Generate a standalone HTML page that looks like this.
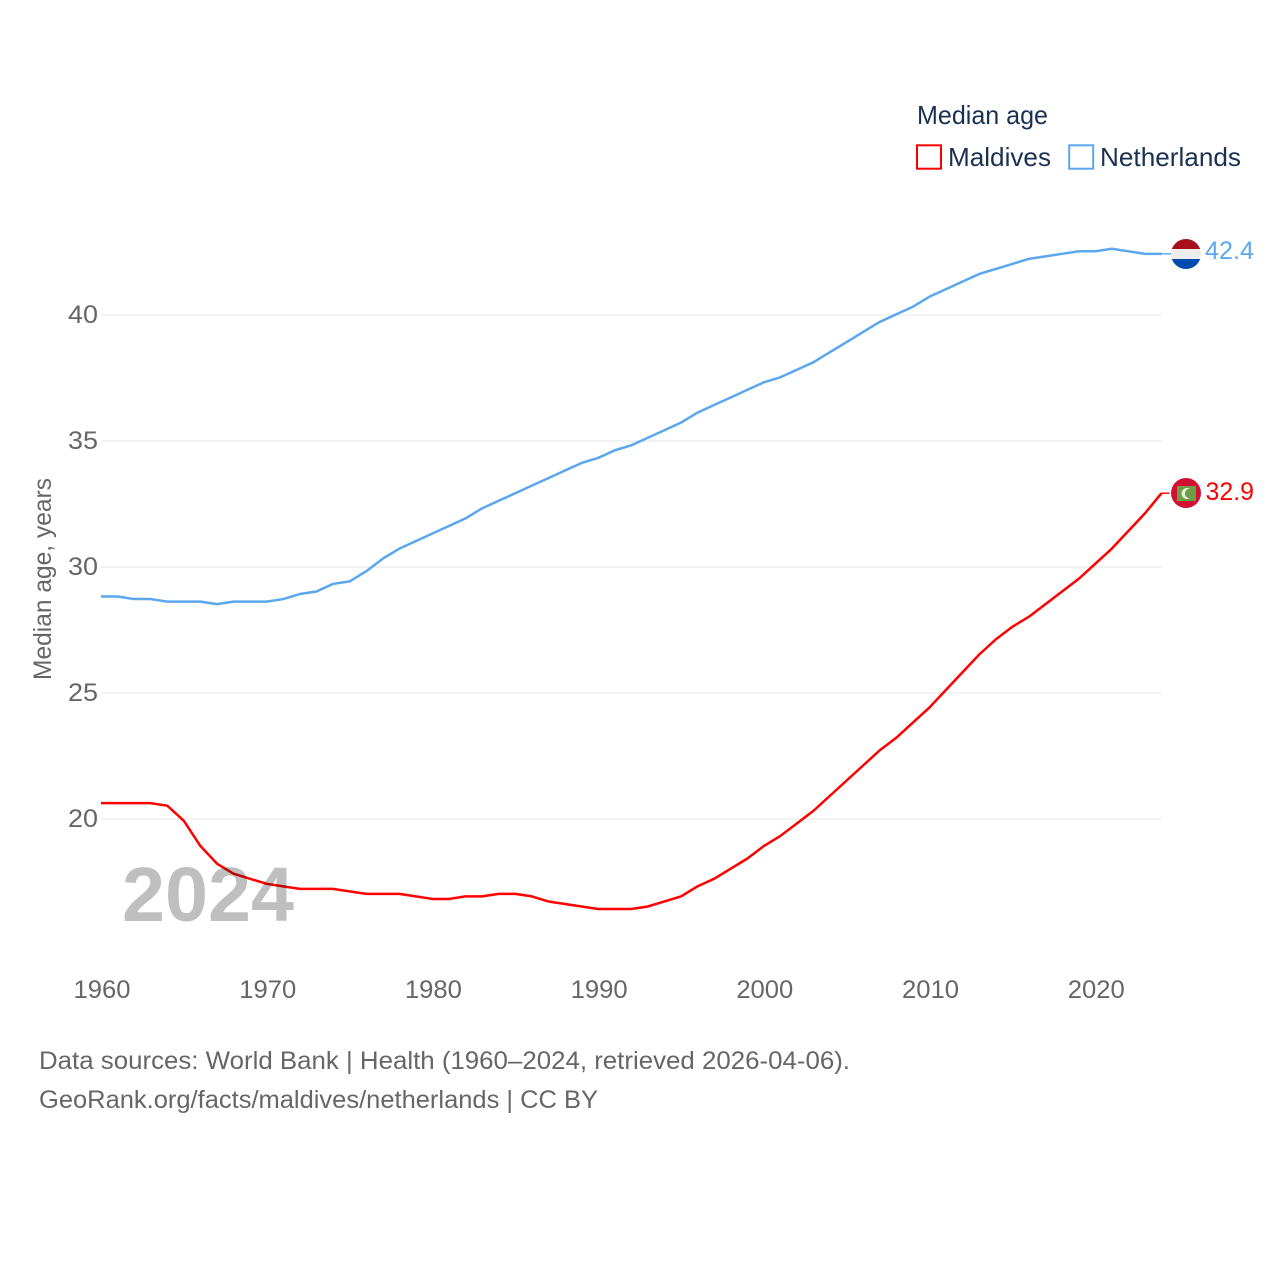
<!DOCTYPE html>
<html lang="en">
<head>
<meta charset="utf-8">
<title>Median age: Maldives and Netherlands</title>
<style>
html,body{margin:0;padding:0;background:#fff;width:1280px;height:1280px;overflow:hidden}
svg{display:block}
text{font-family:"Liberation Sans",sans-serif}
</style>
</head>
<body>
<svg id="chart" xmlns="http://www.w3.org/2000/svg" width="1280" height="1280" viewBox="0 0 1280 1280">
  <defs>
    <clipPath id="clip-nl"><circle cx="1186" cy="254" r="15"/></clipPath>
    <clipPath id="clip-mv"><circle cx="1186" cy="493" r="15"/></clipPath>
  </defs>
  <rect x="0" y="0" width="1280" height="1280" fill="#fff"/>
  <g id="grid"></g>
  <g id="y-ticks"></g>
  <g id="x-ticks"></g>
  <text transform="translate(51,680) rotate(-90)" font-size="25" fill="#666" textLength="202" lengthAdjust="spacingAndGlyphs">Median age, years</text>
  <g id="series" transform="translate(0,-0.7)"></g>
  <text x="122" y="921" font-size="77" font-weight="700" fill="#000" fill-opacity="0.25" textLength="172" lengthAdjust="spacingAndGlyphs">2024</text>

  <g>
    <text x="917" y="124" font-size="26" fill="#1a3150" textLength="131" lengthAdjust="spacingAndGlyphs">Median age</text>
    <g>
      <rect x="917" y="145.3" width="24" height="23.4" fill="none" stroke="#ff0000" stroke-width="2"/>
      <text x="948" y="166" font-size="26" fill="#1a3150" textLength="103" lengthAdjust="spacingAndGlyphs">Maldives</text>
    </g>
    <g>
      <rect x="1069.2" y="145.3" width="24" height="23.4" fill="none" stroke="#5ba7ee" stroke-width="2"/>
      <text x="1100" y="166" font-size="26" fill="#1a3150" textLength="141" lengthAdjust="spacingAndGlyphs">Netherlands</text>
    </g>
  </g>

  <g clip-path="url(#clip-nl)">
    <rect x="1171" y="239" width="30" height="10" fill="#a8101c"/>
    <rect x="1171" y="249" width="30" height="10" fill="#eeeeee"/>
    <rect x="1171" y="259" width="30" height="10" fill="#014aaf"/>
  </g>
  <g clip-path="url(#clip-mv)">
    <rect x="1171" y="478" width="30" height="30" fill="#d21034"/>
    <rect x="1177" y="486" width="19" height="15" fill="#6a9f45"/>
    <circle cx="1187" cy="493.5" r="5.5" fill="#e6efdc"/>
    <circle cx="1189.5" cy="493.5" r="4.6" fill="#6a9f45"/>
  </g>
  <text x="1205" y="259" font-size="25" fill="#5ba7ee" textLength="49" lengthAdjust="spacingAndGlyphs">42.4</text>
  <text x="1205.5" y="500" font-size="25" fill="#ff0000" textLength="48.5" lengthAdjust="spacingAndGlyphs">32.9</text>

  <text x="39" y="1069" font-size="25" fill="#666" textLength="811" lengthAdjust="spacingAndGlyphs">Data sources: World Bank | Health (1960–2024, retrieved 2026-04-06).</text>
  <text x="39" y="1108" font-size="25" fill="#666" textLength="559" lengthAdjust="spacingAndGlyphs">GeoRank.org/facts/maldives/netherlands | CC BY</text>
</svg>
<script>
const years = [1960,1961,1962,1963,1964,1965,1966,1967,1968,1969,1970,1971,1972,1973,1974,1975,1976,1977,1978,1979,1980,1981,1982,1983,1984,1985,1986,1987,1988,1989,1990,1991,1992,1993,1994,1995,1996,1997,1998,1999,2000,2001,2002,2003,2004,2005,2006,2007,2008,2009,2010,2011,2012,2013,2014,2015,2016,2017,2018,2019,2020,2021,2022,2023,2024];
const netherlands = [28.8,28.8,28.7,28.7,28.6,28.6,28.6,28.5,28.6,28.6,28.6,28.7,28.9,29.0,29.3,29.4,29.8,30.3,30.7,31.0,31.3,31.6,31.9,32.3,32.6,32.9,33.2,33.5,33.8,34.1,34.3,34.6,34.8,35.1,35.4,35.7,36.1,36.4,36.7,37.0,37.3,37.5,37.8,38.1,38.5,38.9,39.3,39.7,40.0,40.3,40.7,41.0,41.3,41.6,41.8,42.0,42.2,42.3,42.4,42.5,42.5,42.6,42.5,42.4,42.4];
const maldives = [20.6,20.6,20.6,20.6,20.5,19.9,18.9,18.2,17.8,17.6,17.4,17.3,17.2,17.2,17.2,17.1,17.0,17.0,17.0,16.9,16.8,16.8,16.9,16.9,17.0,17.0,16.9,16.7,16.6,16.5,16.4,16.4,16.4,16.5,16.7,16.9,17.3,17.6,18.0,18.4,18.9,19.3,19.8,20.3,20.9,21.5,22.1,22.7,23.2,23.8,24.4,25.1,25.8,26.5,27.1,27.6,28.0,28.5,29.0,29.5,30.1,30.7,31.4,32.1,32.9];
const yTickValues = [20,25,30,35,40];
const xTickValues = [1960,1970,1980,1990,2000,2010,2020];

const NS = 'http://www.w3.org/2000/svg';
const plotLeft = 101, plotRight = 1161.5;
function xScale(year){ return plotLeft + (year - 1960) * (plotRight - plotLeft) / (2024 - 1960); }
function yScale(v){ return 819 + (v - 20) * (315 - 819) / (40 - 20); }

const grid = document.getElementById('grid');
const yTicks = document.getElementById('y-ticks');
const xTicks = document.getElementById('x-ticks');
const series = document.getElementById('series');

yTickValues.forEach(function(v){
  const line = document.createElementNS(NS,'line');
  
  
  line.setAttribute('x1', 101.5);
  line.setAttribute('x2', 1162);
  line.setAttribute('y1', yScale(v));
  line.setAttribute('y2', yScale(v));
  line.setAttribute('stroke', '#eeeeee');
  line.setAttribute('stroke-width', '1.6');
  grid.appendChild(line);
  const label = document.createElementNS(NS,'text');
  
  
  label.setAttribute('x', 68);
  label.setAttribute('y', yScale(v) + 8);
  label.setAttribute('font-size', '25');
  label.setAttribute('fill', '#666');
  label.setAttribute('textLength', '30');
  label.setAttribute('lengthAdjust', 'spacingAndGlyphs');
  label.textContent = String(v);
  yTicks.appendChild(label);
});

xTickValues.forEach(function(v){
  const label = document.createElementNS(NS,'text');
  
  
  label.setAttribute('x', xScale(v) - 27.5);
  label.setAttribute('y', 998);
  label.setAttribute('font-size', '25');
  label.setAttribute('fill', '#666');
  label.setAttribute('textLength', '57');
  label.setAttribute('lengthAdjust', 'spacingAndGlyphs');
  label.textContent = String(v);
  xTicks.appendChild(label);
});

function linePoints(values){
  return values.map(function(v, i){ return xScale(years[i]).toFixed(2) + ',' + yScale(v).toFixed(2); });
}

const nlLine = document.createElementNS(NS,'polyline');


nlLine.setAttribute('points', linePoints(netherlands).join(' '));
nlLine.setAttribute('fill', 'none');
nlLine.setAttribute('stroke', '#5ba7ee');
nlLine.setAttribute('stroke-width', '2.5');
nlLine.setAttribute('stroke-linejoin', 'round');
series.appendChild(nlLine);

const mvLine = document.createElementNS(NS,'polyline');


mvLine.setAttribute('points', linePoints(maldives).join(' '));
mvLine.setAttribute('fill', 'none');
mvLine.setAttribute('stroke', '#ff0000');
mvLine.setAttribute('stroke-width', '2.5');
mvLine.setAttribute('stroke-linejoin', 'round');
series.appendChild(mvLine);

const nlConnector = document.createElementNS(NS,'line');


nlConnector.setAttribute('x1', xScale(2024));
nlConnector.setAttribute('x2', xScale(2024) + 10);
nlConnector.setAttribute('y1', yScale(netherlands[netherlands.length - 1]));
nlConnector.setAttribute('y2', yScale(netherlands[netherlands.length - 1]));
nlConnector.setAttribute('stroke', '#5ba7ee');
nlConnector.setAttribute('stroke-width', '1.4');
series.appendChild(nlConnector);

const mvConnector = document.createElementNS(NS,'line');


mvConnector.setAttribute('x1', xScale(2024));
mvConnector.setAttribute('x2', xScale(2024) + 8);
mvConnector.setAttribute('y1', yScale(maldives[maldives.length - 1]));
mvConnector.setAttribute('y2', yScale(maldives[maldives.length - 1]));
mvConnector.setAttribute('stroke', '#ff0000');
mvConnector.setAttribute('stroke-width', '1.4');
series.appendChild(mvConnector);
</script>
</body>
</html>
